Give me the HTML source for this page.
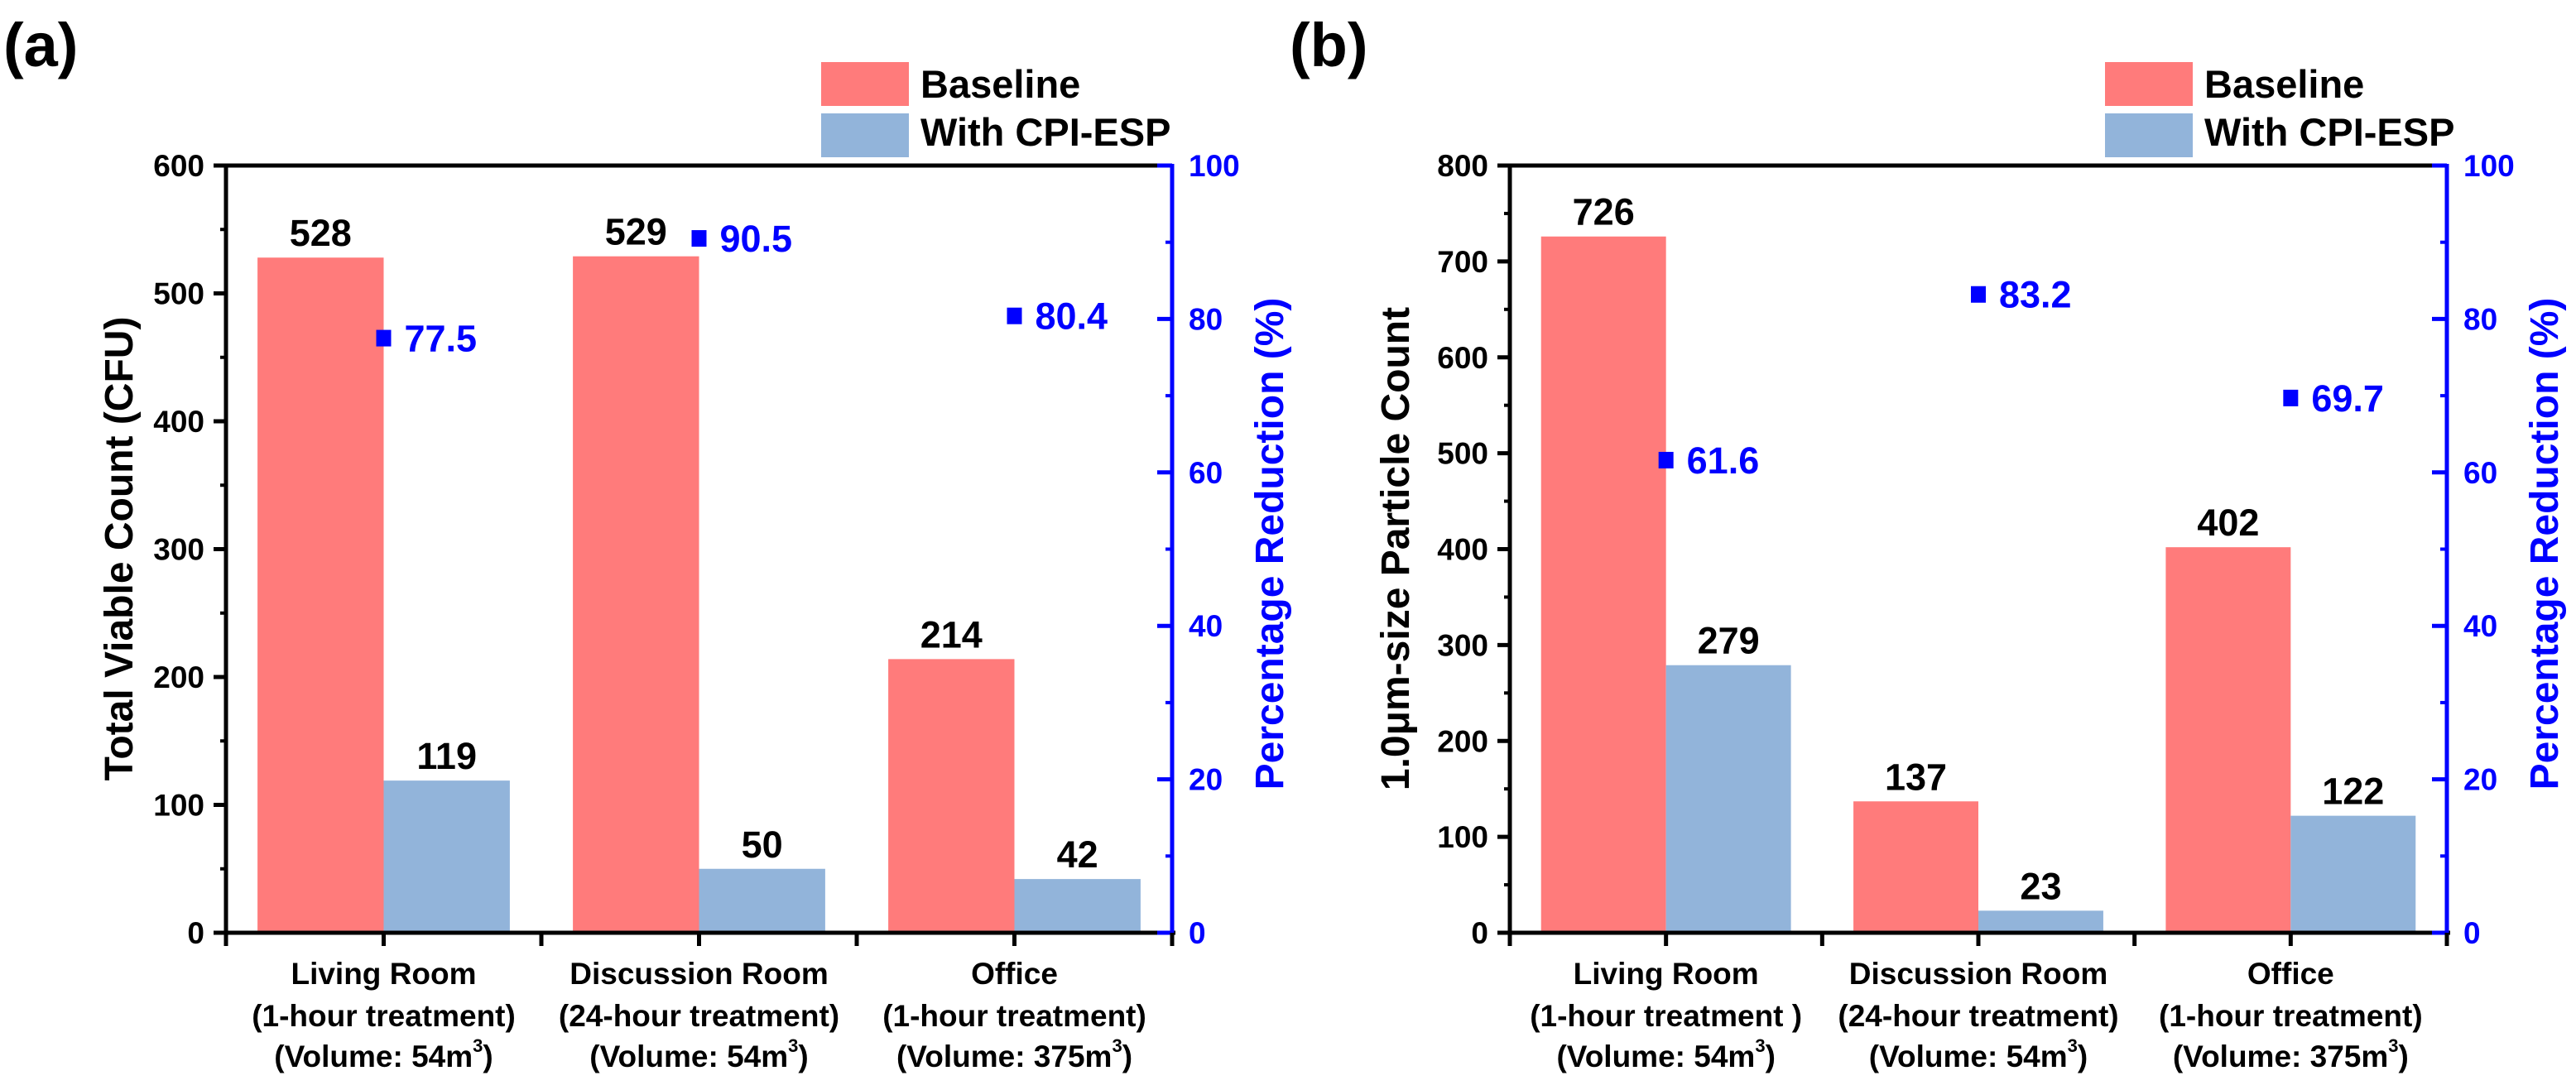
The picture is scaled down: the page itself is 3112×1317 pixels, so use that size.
<!DOCTYPE html>
<html><head><meta charset="utf-8"><style>
html,body{margin:0;padding:0;background:#fff;}
svg{display:block;font-family:"Liberation Sans",Arial,sans-serif;font-weight:bold;}
</style></head><body>
<svg id="chart" width="3112" height="1317" viewBox="0 0 3112 1317" xmlns="http://www.w3.org/2000/svg"></svg>
<script>
const categories = [["Living Room","(1-hour treatment)","(Volume: 54m","3",")"],["Discussion Room","(24-hour treatment)","(Volume: 54m","3",")"],["Office","(1-hour treatment)","(Volume: 375m","3",")"]];
const categoriesB = [["Living Room","(1-hour treatment )","(Volume: 54m","3",")"],["Discussion Room","(24-hour treatment)","(Volume: 54m","3",")"],["Office","(1-hour treatment)","(Volume: 375m","3",")"]];
const baselineA = [528, 529, 214];
const espA = [119, 50, 42];
const pctA = [77.5, 90.5, 80.4];
const baselineB = [726, 137, 402];
const espB = [279, 23, 122];
const pctB = [61.6, 83.2, 69.7];
const ticksA = [0,100,200,300,400,500,600];
const ticksB = [0,100,200,300,400,500,600,700,800];
const ticksPct = [0,20,40,60,80,100];

const NS="http://www.w3.org/2000/svg";
const svg=document.getElementById('chart');
function el(tag,attrs,parent,text){const e=document.createElementNS(NS,tag);for(const k in attrs)e.setAttribute(k,attrs[k]);if(text!==undefined)e.textContent=text;(parent||svg).appendChild(e);return e;}

function panel(cfg){
  const g=el('g',{});
  
  
  const L=cfg.left,R=cfg.right,T=200,B=1127;
  const yL=v=>B-(v/cfg.max)*(B-T);
  const yR=v=>B-(v/100)*(B-T);
  const cw=(R-L)/3;
  const xC=i=>L+cw*(i+0.5);
  const bw=cw*0.4;
  cfg.base.forEach((v,i)=>{
    const r=el('rect',{x:xC(i)-bw,y:yL(v),width:bw,height:B-yL(v),fill:'#FF7B7B'},g);
    
    
    const t=el('text',{x:xC(i)-bw/2,y:yL(v)-14,'font-size':45,'text-anchor':'middle',fill:'#000'},g,String(v));
    
    
  });
  cfg.esp.forEach((v,i)=>{
    const r=el('rect',{x:xC(i),y:yL(v),width:bw,height:B-yL(v),fill:'#92B4DA'},g);
    
    
    const t=el('text',{x:xC(i)+bw/2,y:yL(v)-14,'font-size':45,'text-anchor':'middle',fill:'#000'},g,String(v));
    
    
  });
  el('line',{x1:L,y1:T,x2:R,y2:T,stroke:'#000','stroke-width':5},g);
  el('line',{x1:L-15,y1:B,x2:R+4,y2:B,stroke:'#000','stroke-width':5},g);
  const la=el('line',{x1:L,y1:T-2,x2:L,y2:B+15,stroke:'#000','stroke-width':5},g);
  
  
  const ra=el('line',{x1:R,y1:T-2,x2:R,y2:B+10,stroke:'#0000FF','stroke-width':5},g);
  
  
  cfg.ticks.forEach((v,i)=>{
    el('line',{x1:L-15,y1:yL(v),x2:L,y2:yL(v),stroke:'#000','stroke-width':5},g);
    if(i<cfg.ticks.length-1){const m=v+(cfg.ticks[1]-cfg.ticks[0])/2;el('line',{x1:L-7,y1:yL(m),x2:L,y2:yL(m),stroke:'#000','stroke-width':4},g);}
    const t=el('text',{x:L-26,y:yL(v)+13,'font-size':37,'text-anchor':'end',fill:'#000'},g,String(v));
    
    
  });
  ticksPct.forEach((v,i)=>{
    el('line',{x1:R-18,y1:yR(v),x2:R,y2:yR(v),stroke:'#0000FF','stroke-width':5},g);
    if(i<ticksPct.length-1)el('line',{x1:R-8,y1:yR(v+10),x2:R,y2:yR(v+10),stroke:'#0000FF','stroke-width':4},g);
    const t=el('text',{x:R+20,y:yR(v)+13,'font-size':37,fill:'#0000FF'},g,String(v));
    
    
  });
  for(let k=0;k<=6;k++){const x=L+cw*k/2;el('line',{x1:x,y1:B,x2:x,y2:B+16,stroke:'#000','stroke-width':5},g);}
  cfg.cats.forEach((c,i)=>{
    const t=el('text',{x:xC(i),y:B+62,'font-size':37,'text-anchor':'middle',fill:'#000'},g,c[0]);
    
    
    el('text',{x:xC(i),y:B+113,'font-size':37,'text-anchor':'middle',fill:'#000'},g,c[1]);
    const t3=el('text',{x:xC(i),y:B+162,'font-size':37,'text-anchor':'middle',fill:'#000'},g);
    el('tspan',{},t3,c[2]);
    el('tspan',{'font-size':22,dy:-18},t3,c[3]);
    el('tspan',{dy:18},t3,c[4]);
  });
  cfg.pct.forEach((v,i)=>{
    const p=el('rect',{x:xC(i)-9,y:yR(v)-10,width:18,height:20,fill:'#0000FF'},g);
    
    
    const t=el('text',{x:xC(i)+25,y:yR(v)+16,'font-size':45,fill:'#0000FF'},g,v.toFixed(1));
    
    
  });
  const yt=el('text',{x:0,y:0,'font-size':48,'text-anchor':'middle',fill:'#000',transform:`translate(${cfg.ytx},663) rotate(-90)`},g);
  
  
  cfg.ytitle(yt);
  const rt=el('text',{x:0,y:0,'font-size':48,'text-anchor':'middle',fill:'#0000FF',transform:`translate(${R+134},657) rotate(-90)`},g,'Percentage Reduction (%)');
  
  
  const lg=el('g',{},g);
  
  
  el('rect',{x:cfg.lx,y:75,width:106,height:53,fill:'#FF7B7B'},lg);
  el('rect',{x:cfg.lx,y:137,width:106,height:53,fill:'#92B4DA'},lg);
  const l1=el('text',{x:cfg.lx+120,y:118,'font-size':47,fill:'#000'},lg,'Baseline');
  
  
  const l2=el('text',{x:cfg.lx+120,y:176,'font-size':47,fill:'#000'},lg,'With CPI-ESP');
  
  
  const pl=el('text',{x:cfg.px,y:80,'font-size':74,fill:'#000'},g,cfg.plabel);
  
  
}
panel({name:'panel-a',left:273,right:1416,max:600,ticks:ticksA,base:baselineA,esp:espA,pct:pctA,cats:categories,ytx:160,lx:992,px:4,plabel:'(a)',
  ytitle:t=>{t.textContent='Total Viable Count (CFU)';}});
panel({name:'panel-b',left:1824,right:2956,max:800,ticks:ticksB,base:baselineB,esp:espB,pct:pctB,cats:categoriesB,ytx:1702,lx:2543,px:1558,plabel:'(b)',
  ytitle:t=>{t.textContent='1.0\u03BCm-size Particle Count';}});
</script>
</body></html>
